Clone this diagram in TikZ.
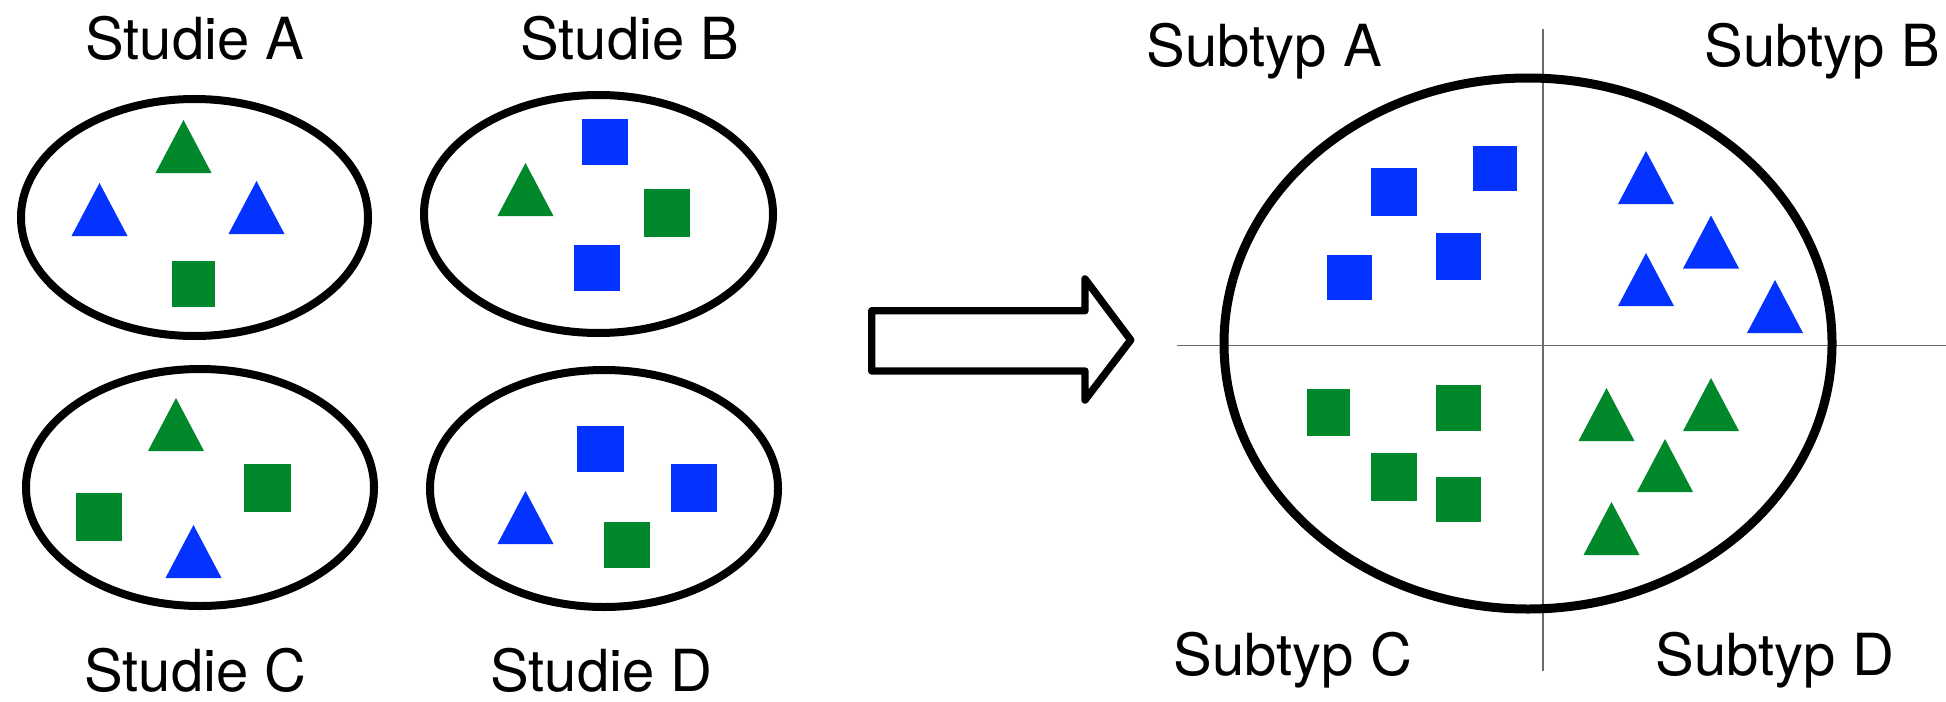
\documentclass[tikz,border=0pt]{standalone}
\usepackage{fontspec}
\setmainfont{TeX Gyre Heros}
\definecolor{shapeblue}{HTML}{0433FF}
\definecolor{shapegreen}{HTML}{00882B}
\definecolor{axisgray}{HTML}{6A6A6A}

% filled triangle given by its apex
\newcommand\shapetri[3]{\fill[#3] (#1,#2) -- ++(-28,53) -- ++(56,0) -- cycle;}
% filled square given by two corners
\newcommand\shapesq[5]{\fill[#5] (#1,#2) rectangle (#3,#4);}

\begin{document}
\begin{tikzpicture}[x=0.5pt,y=-0.5pt,
  ring/.style={line width=4pt},
  bigring/.style={line width=4.5pt},
  axis/.style={line width=0.75pt, draw=axisgray},
  outline/.style={line width=3.7pt, line join=round},
  caption/.style={font=\fontsize{29}{34}\selectfont, inner sep=0pt, anchor=base west}
]
\useasboundingbox (0,0) rectangle (1946,701);

% ---- four studies ----
\draw[ring] (194.5,217.5) ellipse [x radius=173.5, y radius=118.5];
\draw[ring] (598.5,214) ellipse [x radius=174.5, y radius=119];
\draw[ring] (200,487.5) ellipse [x radius=174, y radius=118.5];
\draw[ring] (604,488.5) ellipse [x radius=174, y radius=118.5];

% Studie A
\shapetri{183.5}{120}{shapegreen}
\shapetri{99.5}{183}{shapeblue}
\shapetri{256.5}{181}{shapeblue}
\shapesq{172}{261}{215}{307}{shapegreen}
% Studie B
\shapesq{582}{119}{628}{165}{shapeblue}
\shapetri{525.5}{163}{shapegreen}
\shapesq{643.5}{189}{690}{237}{shapegreen}
\shapesq{574}{245}{620}{291}{shapeblue}
% Studie C
\shapetri{176}{398}{shapegreen}
\shapesq{244}{464}{290.5}{512}{shapegreen}
\shapesq{75.5}{493}{121.5}{541}{shapegreen}
\shapetri{193.5}{525}{shapeblue}
% Studie D
\shapesq{577}{426}{623.5}{472}{shapeblue}
\shapesq{670.5}{464}{717}{512}{shapeblue}
\shapetri{525.5}{491}{shapeblue}
\shapesq{603.5}{522}{649.5}{568}{shapegreen}

\node[caption] (studA) at (85,60) {Studie A};
\node[caption] (studB) at (520,60) {Studie B};
\node[caption] (studC) at (84,691) {Studie C};
\node[caption] (studD) at (490,691) {Studie D};

% ---- arrow ----
\draw[outline] (871.7,310.7) -- (1085,310.7) -- (1085,279) -- (1130.7,340)
  -- (1085,400) -- (1085,371) -- (871.7,371) -- cycle;

% ---- subtypes ----
\draw[axis] (1543,29) -- (1543,671);
\draw[axis] (1177,345.5) -- (1946,345.5);
\draw[bigring] (1528,343.5) ellipse [x radius=304, y radius=265.5];

% Subtyp A
\shapesq{1371}{168}{1417}{215.5}{shapeblue}
\shapesq{1473}{146}{1517}{191}{shapeblue}
\shapesq{1436}{233}{1481}{280}{shapeblue}
\shapesq{1327}{255}{1372}{300}{shapeblue}
% Subtyp B
\shapetri{1646}{151}{shapeblue}
\shapetri{1711}{215.5}{shapeblue}
\shapetri{1646}{253}{shapeblue}
\shapetri{1775}{280}{shapeblue}
% Subtyp C
\shapesq{1307}{389}{1350}{436}{shapegreen}
\shapesq{1436}{385}{1481}{431}{shapegreen}
\shapesq{1371}{453}{1417}{501}{shapegreen}
\shapesq{1436}{477}{1481}{522}{shapegreen}
% Subtyp D
\shapetri{1606.5}{388}{shapegreen}
\shapetri{1711}{378}{shapegreen}
\shapetri{1665}{439}{shapegreen}
\shapetri{1611.5}{502}{shapegreen}

\node[caption] (subA) at (1146,67) {Subtyp A};
\node[caption] (subB) at (1704,67) {Subtyp B};
\node[caption] (subC) at (1173,675) {Subtyp C};
\node[caption] (subD) at (1655,675) {Subtyp D};
\end{tikzpicture}
\end{document}
